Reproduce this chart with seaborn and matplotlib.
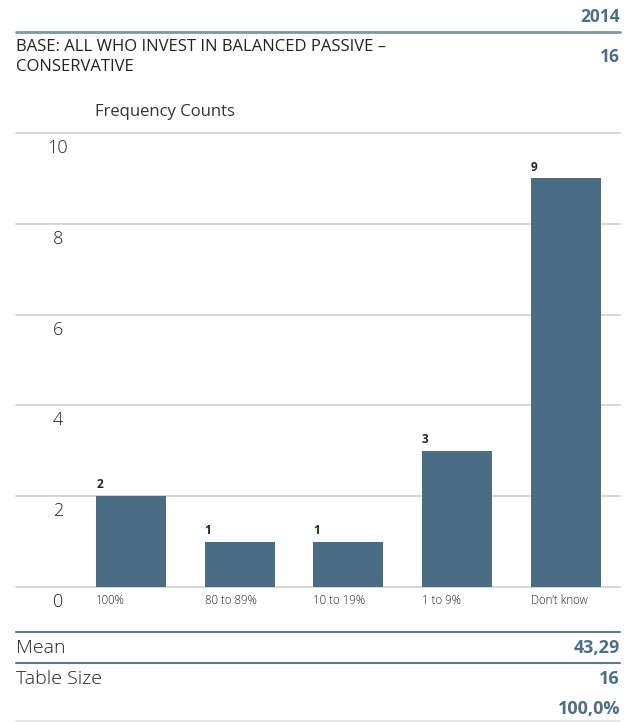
import matplotlib
matplotlib.use("Agg")
import matplotlib.pyplot as plt
import matplotlib.transforms as mtrans
from matplotlib.lines import Line2D
import seaborn as sns
import pandas as pd

categories = ["100%", "80 to 89%", "10 to 19%", "1 to 9%", "Don\u2019t know"]
counts = [2, 1, 1, 3, 9]
y_ticks = [0, 2, 4, 6, 8, 10]

year_label = "2014"
base_label = "BASE: ALL WHO INVEST IN BALANCED PASSIVE \u2013\nCONSERVATIVE"
base_value = "16"
mean_value = "43,29"
table_size = "16"
total_pct = "100,0%"

BAR = "#4b6d84"
ACCENT = "#4e6e87"
TEXT = "#222222"
GRID = "#d3d3d3"

sns.set_theme(style="white")
plt.rcParams["font.family"] = ["Open Sans", "DejaVu Sans"]

W, H = 634, 722
fig = plt.figure(figsize=(W / 100, H / 100), dpi=100)

def fx(px):
    return px / W

def fy(py):
    return 1 - py / H

ax_left, ax_right = 16, 620
ax_top, ax_bottom = 133, 587
ax = fig.add_axes([fx(ax_left), fy(ax_bottom), fx(ax_right - ax_left), (ax_bottom - ax_top) / H])

df = pd.DataFrame({"category": categories, "count": counts})
sns.barplot(data=df, x="category", y="count", color=BAR, width=0.645,
            saturation=1, linewidth=0, ax=ax)

ax.set_xlim(-1.06, 4.5)
ax.set_ylim(0, 10)
for s in ax.spines.values():
    s.set_visible(False)
ax.set_xticks([])
ax.set_yticks([])
ax.set_xlabel("")
ax.set_ylabel("")

# horizontal gridlines behind bars
for t in y_ticks:
    ax.axhline(t, color=GRID, lw=1.3, zorder=0, clip_on=False)

# y tick labels sit just below each gridline
offset = mtrans.ScaledTranslation(0, -15 / 100, fig.dpi_scale_trans)
tick_x = (58 - ax_left) / (ax_right - ax_left)
for t in y_ticks:
    ax.text(tick_x, t, str(t), transform=ax.get_yaxis_transform() + offset,
            ha="center", va="center", fontsize=13, fontweight="light",
            color=TEXT, clip_on=False)

# value labels above bars and category labels below, left-aligned with bars
for p, v, c in zip(ax.patches, counts, categories):
    x0 = p.get_x()
    ax.annotate(str(v), (x0, v), xytext=(0, 3.5), textcoords="offset points",
                ha="left", va="bottom", fontsize=8.5, fontweight="bold", color=TEXT)
    ax.annotate(c, (x0, 0), xytext=(0, -9.5), textcoords="offset points",
                ha="left", va="center", fontsize=8.3, fontweight="light",
                color=TEXT, annotation_clip=False)

# header
fig.text(fx(620), fy(17), year_label, ha="right", va="center", fontsize=12.5,
         fontweight="bold", color=ACCENT)
fig.add_artist(Line2D([fx(16), fx(620)], [fy(32), fy(32)], color="#7f97a8", lw=2))
fig.text(fx(16), fy(57), base_label, ha="left", va="center", fontsize=12,
         color=TEXT, linespacing=1.35)
fig.text(fx(620), fy(57), base_value, ha="right", va="center", fontsize=12.5,
         fontweight="bold", color=ACCENT)
fig.text(fx(95), fy(112), "Frequency Counts", ha="left", va="center",
         fontsize=12, color="#333333")

# footer table
fig.add_artist(Line2D([fx(16), fx(620)], [fy(632), fy(632)], color="#5c7b91", lw=1.5))
fig.text(fx(16), fy(648), "Mean", ha="left", va="center", fontsize=14,
         fontweight="light", color=TEXT)
fig.text(fx(620), fy(648), mean_value, ha="right", va="center", fontsize=13,
         fontweight="bold", color=ACCENT)
fig.add_artist(Line2D([fx(16), fx(620)], [fy(663), fy(663)], color="#5c7b91", lw=1.5))
fig.text(fx(16), fy(679), "Table Size", ha="left", va="center", fontsize=14,
         fontweight="light", color=TEXT)
fig.text(fx(620), fy(679), table_size, ha="right", va="center", fontsize=13,
         fontweight="bold", color=ACCENT)
fig.text(fx(620), fy(709), total_pct, ha="right", va="center", fontsize=13,
         fontweight="bold", color=ACCENT)
fig.add_artist(Line2D([fx(16), fx(620)], [fy(721), fy(721)], color="#e3e3e3", lw=1.2))

fig.savefig("out.png", dpi=100)
